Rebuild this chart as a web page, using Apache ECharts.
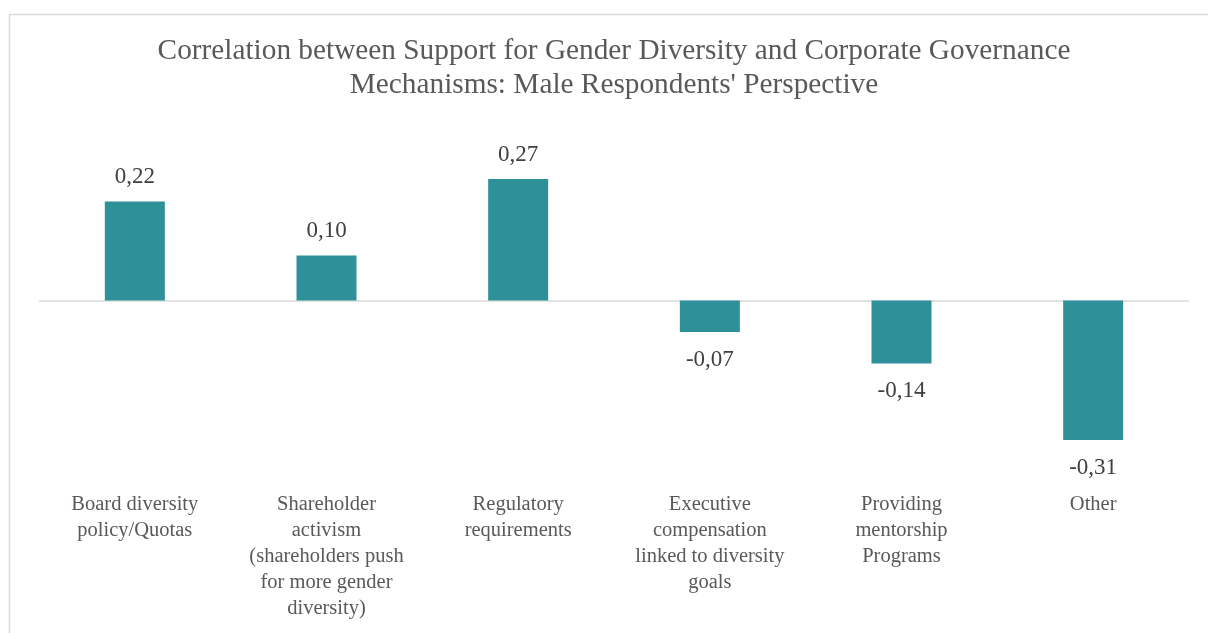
<!DOCTYPE html>
<html>
<head>
<meta charset="utf-8">
<script src="https://cdn.jsdelivr.net/npm/echarts@6/dist/echarts.min.js"></script>
<style>
html,body{margin:0;padding:0;background:#fff;}
#chart{width:1208px;height:633px;}
</style>
</head>
<body>
<div id="chart"></div>
<script>
const titleText = "Correlation between Support for Gender Diversity and Corporate Governance\nMechanisms: Male Respondents' Perspective";
const categories = [
  "Board diversity\npolicy/Quotas",
  "Shareholder\nactivism\n(shareholders push\nfor more gender\ndiversity)",
  "Regulatory\nrequirements",
  "Executive\ncompensation\nlinked to diversity\ngoals",
  "Providing\nmentorship\nPrograms",
  "Other"
];
const values = [0.22, 0.10, 0.27, -0.07, -0.14, -0.31];

const chart = echarts.init(document.getElementById('chart'));
const font = "'Liberation Serif', 'Times New Roman', serif";
chart.setOption({
  animation: false,
  graphic: [{
    type: 'rect',
    shape: { x: 9.5, y: 14.5, width: 1210, height: 640 },
    style: { fill: 'none', stroke: '#d9d9d9', lineWidth: 1.5 },
    silent: true
  }, {
    type: 'text',
    x: 614,
    y: 68,
    silent: true,
    style: {
      text: titleText,
      fontFamily: font,
      fontSize: 29.3,
      lineHeight: 34,
      fill: '#595959',
      align: 'center',
      verticalAlign: 'middle'
    }
  }],
  grid: { left: 39, right: 19, top: 165.5, bottom: 152.5, containLabel: false },
  xAxis: {
    type: 'category',
    data: categories,
    position: 'bottom',
    axisLine: { show: false, onZero: false },
    axisTick: { show: false },
    axisLabel: {
      interval: 0,
      margin: 11,
      fontFamily: font,
      fontSize: 20.5,
      lineHeight: 26,
      color: '#595959',
      align: 'center',
      verticalAlign: 'top'
    }
  },
  yAxis: {
    type: 'value',
    min: -0.4,
    max: 0.3,
    show: false,
    splitLine: { show: false }
  },
  series: [{
    type: 'bar',
    data: values.map(v => ({
      value: v,
      label: { position: v >= 0 ? 'top' : 'bottom', distance: v >= 0 ? 13 : 16 }
    })),
    barWidth: 60,
    itemStyle: { color: '#2E9199' },
    label: {
      show: true,
      fontFamily: font,
      fontSize: 23,
      color: '#404040',
      formatter: p => p.value.toFixed(2).replace('.', ',')
    },
    markLine: {
      silent: true,
      symbol: 'none',
      label: { show: false },
      lineStyle: { color: '#d9d9d9', type: 'solid', width: 1.5 },
      data: [{ yAxis: 0 }],
      z: 1
    },
    z: 2
  }]
});
</script>
</body>
</html>
